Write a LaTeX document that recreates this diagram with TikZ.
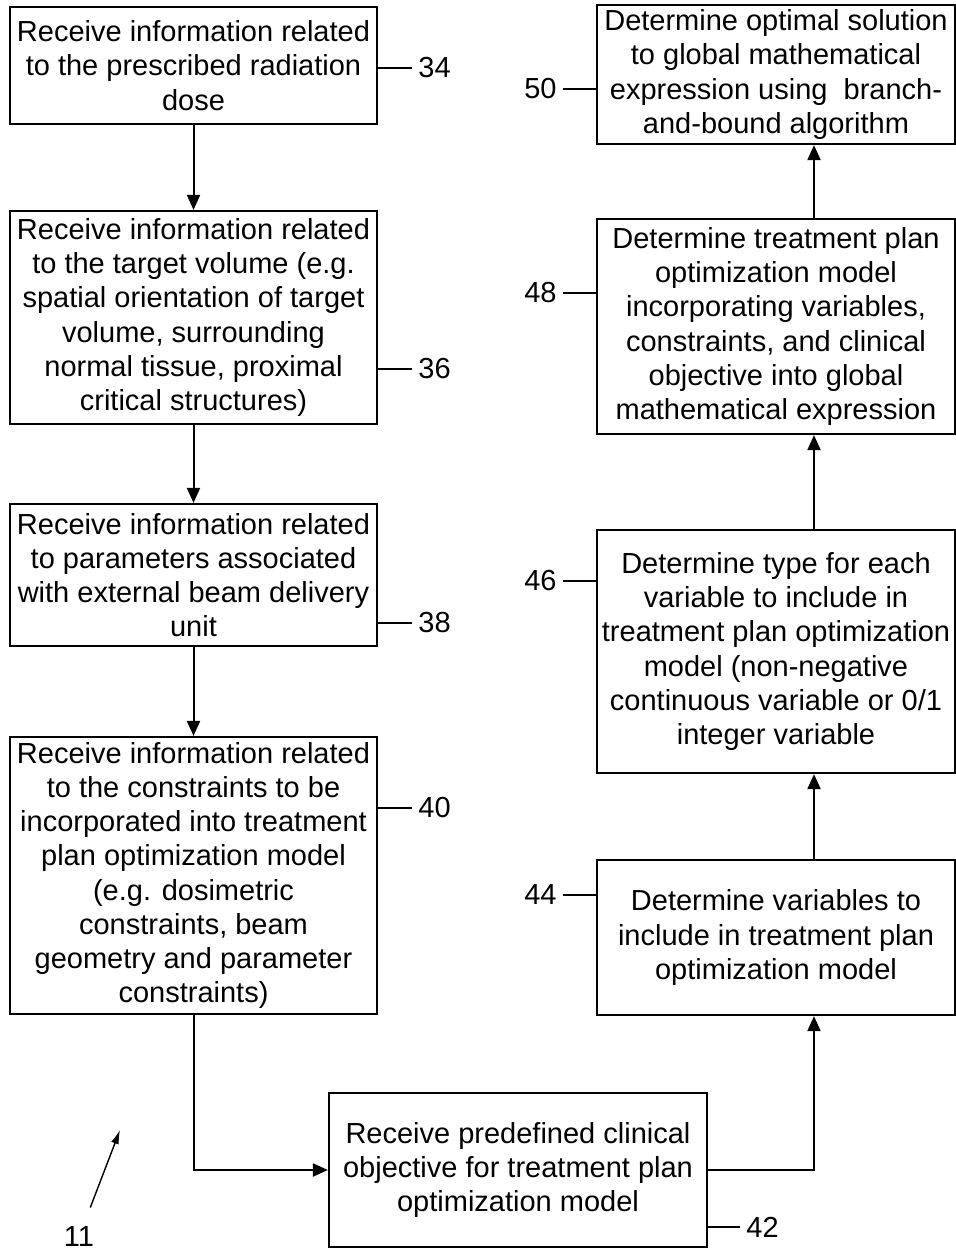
\documentclass[tikz,border=0pt]{standalone}
\usepackage{fontspec}
\setmainfont{Liberation Sans}
\usetikzlibrary{arrows.meta}

\begin{document}
\begin{tikzpicture}[x=0.5pt,y=-0.5pt,
    box/.style={draw, line width=1.1pt, align=center, inner sep=1pt,
      font=\fontsize{14.5pt}{17.1pt}\selectfont},
    lbox/.style={box, minimum width=183.5pt},
    rbox/.style={box, minimum width=179pt},
    arr/.style={line width=1pt, -{Triangle[length=7.5pt,width=6.5pt]}},
    ptr/.style={line width=0.7pt, -{Latex[length=7pt,width=4pt]}},
    lbl/.style={inner sep=3pt, font=\fontsize{14.5pt}{17pt}\selectfont},
    tick/.style={line width=1pt}]
  \useasboundingbox (0,0) rectangle (956,1255);

  % left column
  \node[lbox, minimum height=58.5pt] (b34) at (193.5,65.5)
    {Receive information related\\to the prescribed radiation\\dose};
  \node[lbox, minimum height=106.5pt] (b36) at (193.5,317.5)
    {Receive information related\\to the target volume (e.g.\\spatial orientation of target\\volume, surrounding\\normal tissue, proximal\\critical structures)};
  \node[lbox, minimum height=71pt] (b38) at (193.5,575)
    {Receive information related\\to parameters associated\\with external beam delivery\\unit};
  \node[lbox, minimum height=138.5pt] (b40) at (193.5,875.5)
    {Receive information related\\to the constraints to be\\incorporated into treatment\\plan optimization model\\(e.g. dosimetric\\constraints, beam\\geometry and parameter\\constraints)};

  % bottom box
  \node[box, minimum width=189pt, minimum height=77pt] (b42) at (518,1170)
    {Receive predefined clinical\\objective for treatment plan\\optimization model};

  % right column
  \node[rbox, minimum height=77.5pt] (b44) at (776,937.5)
    {Determine variables to\\include in treatment plan\\optimization model};
  \node[rbox, minimum height=121.5pt] (b46) at (776,651.5)
    {Determine type for each\\variable to include in\\treatment plan optimization\\model (non-negative\\continuous variable or 0/1\\integer variable};
  \node[rbox, minimum height=107.5pt] (b48) at (776,326.5)
    {Determine treatment plan\\optimization model\\incorporating variables,\\constraints, and clinical\\objective into global\\mathematical expression};
  \node[rbox, minimum height=69.5pt] (b50) at (776,74.5)
    {Determine optimal solution\\to global mathematical\\expression using~ branch-\\and-bound algorithm};

  % arrows
  \coordinate (rx) at (814,0);
  \draw[arr] (b34) -- (b36);
  \draw[arr] (b36) -- (b38);
  \draw[arr] (b38) -- (b40);
  \draw[arr] (b40.south) |- (b42.west);
  \draw[arr] (b42.east) -| (b44.south -| rx);
  \draw[arr] (b44.north -| rx) -- (b46.south -| rx);
  \draw[arr] (b46.north -| rx) -- (b48.south -| rx);
  \draw[arr] (b48.north -| rx) -- (b50.south -| rx);

  % reference numerals
  \node[lbl, anchor=west] (l34) at (412,68) {34};
  \node[lbl, anchor=west] (l36) at (412,369) {36};
  \node[lbl, anchor=west] (l38) at (412,623) {38};
  \node[lbl, anchor=west] (l40) at (412,808) {40};
  \node[lbl, anchor=west] (l42) at (740,1227) {42};
  \node[lbl, anchor=east] (l44) at (563,895) {44};
  \node[lbl, anchor=east] (l46) at (563,581) {46};
  \node[lbl, anchor=east] (l48) at (563,293) {48};
  \node[lbl, anchor=east] (l50) at (563,89) {50};
  \draw[tick] (b34.east |- l34) -- (l34);
  \draw[tick] (b36.east |- l36) -- (l36);
  \draw[tick] (b38.east |- l38) -- (l38);
  \draw[tick] (b40.east |- l40) -- (l40);
  \draw[tick] (b42.east |- l42) -- (l42);
  \draw[tick] (l44) -- (b44.west |- l44);
  \draw[tick] (l46) -- (b46.west |- l46);
  \draw[tick] (l48) -- (b48.west |- l48);
  \draw[tick] (l50) -- (b50.west |- l50);

  % figure pointer
  \node[lbl] (n11) at (79,1237) {11};
  \coordinate (p11) at (120,1130);
  \draw[ptr, shorten <=7pt] (n11) -- (p11);
\end{tikzpicture}
\end{document}
